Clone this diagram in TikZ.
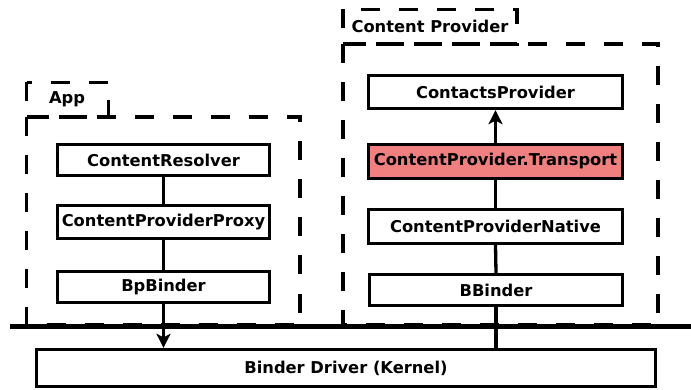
\documentclass[tikz,border=0pt]{standalone}
\usepackage{fontspec}
\setmainfont{DejaVu Sans}
\usetikzlibrary{arrows.meta}
\begin{document}
\begin{tikzpicture}[x=1pt,y=-1pt,
  box/.style={draw=black,line width=3.3pt,fill=white,inner sep=0pt,font=\bfseries\fontsize{16.3}{19}\selectfont},
  grp/.style={draw=black,line width=3.3pt,dash pattern=on 19pt off 19pt},
  lbl/.style={font=\bfseries\fontsize{16.3}{19}\selectfont,inner sep=0pt},
  conn/.style={line width=3.3pt},
  arr/.style={line width=3.3pt,-{Stealth[length=14pt,width=14pt,inset=3.5pt]}}]
\useasboundingbox (0,0) rectangle (691,390);
% groups
\draw[grp] (26.5,82.5) rectangle (108.5,117);
\draw[grp] (26.5,117) rectangle (300,325);
\draw[grp] (343,9.5) rectangle (517,44);
\draw[grp] (343,44) rectangle (658,325);
\node[lbl] (applbl) at (67,99.5) {App};
\node[lbl] (cplbl) at (430,26.5) {Content Provider};
% boxes
\node[box,minimum width=212pt,minimum height=31pt] (res) at (163.5,160) {ContentResolver};
\node[box,minimum width=212pt,minimum height=33pt] (proxy) at (163.5,222) {ContentProviderProxy};
\node[box,minimum width=212pt,minimum height=31pt] (bp) at (163.5,287) {BpBinder};
\node[box,minimum width=254pt,minimum height=33pt] (contacts) at (495.5,92) {ContactsProvider};
\node[box,fill={rgb,255:red,240;green,128;blue,128},minimum width=254pt,minimum height=34pt] (transport) at (495.5,161.5) {ContentProvider.Transport};
\node[box,minimum width=254pt,minimum height=34pt] (native) at (495.5,226.5) {ContentProviderNative};
\node[box,minimum width=253pt,minimum height=31pt] (bbinder) at (496,290) {BBinder};
\node[box,minimum width=619pt,minimum height=37pt] (driver) at (346,368) {Binder Driver (Kernel)};
% kernel line
\coordinate (kl) at (10,326);
\coordinate (kr) at (691,326);
\draw[line width=5pt] (kl) -- (kr);
% connectors
\draw[conn] (res.south) -- (proxy.north);
\draw[conn] (proxy.south) -- (bp.north);
\draw[arr] (bp.south) -- (bp.south |- driver.north);
\draw[arr] (transport.north) -- (contacts.south);
\draw[conn] (native.north) -- (transport.south);
\draw[conn] (bbinder.north) -- (native.south);
\draw[conn] (bbinder.south) -- (bbinder.south |- driver.north);
\end{tikzpicture}
\end{document}
